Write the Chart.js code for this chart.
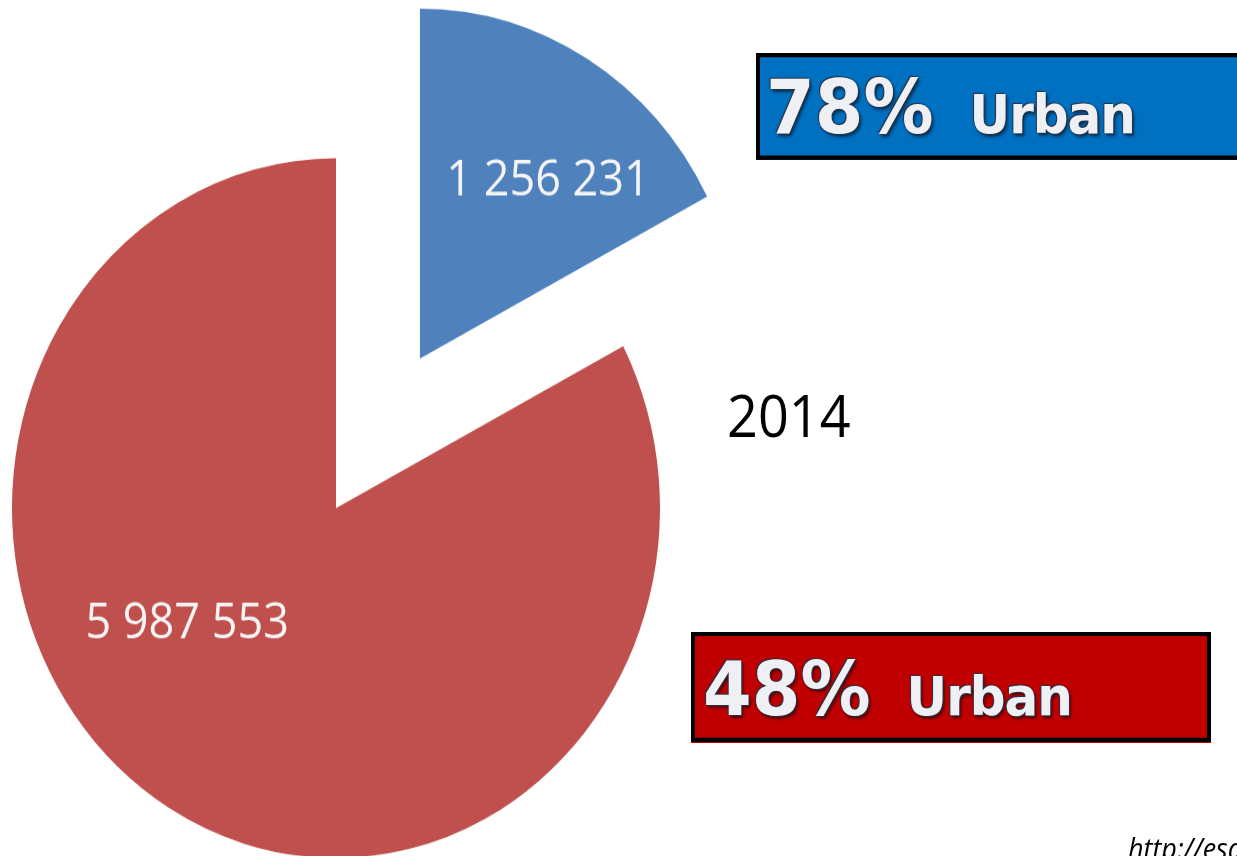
<!DOCTYPE html>
<html>
<head>
<meta charset="utf-8">
<title>World population 2014</title>
<script src="https://cdn.jsdelivr.net/npm/chart.js@4.4.1/dist/chart.umd.min.js"></script>
<style>
  html, body { margin: 0; padding: 0; background: #fff; width: 1237px; height: 856px; overflow: hidden; }
  /* the original picture is stretched a little in height, so the whole stage is too */
  #stage { position: absolute; left: 0; top: 0; width: 1237px; height: 793px; transform: scaleY(1.08); transform-origin: 0 0; }
  #pie { position: absolute; left: 0; top: 0; }
  .box {
    position: absolute; box-sizing: border-box; border: 4px solid #000;
    font-family: "DejaVu Sans", sans-serif; font-weight: bold; font-size: 70px; line-height: 1;
    color: #eef0f4; white-space: nowrap;
    text-shadow: 0 0 1px #28324a, 1px 1px 1px #28324a, -1px -1px 1px #28324a, 2px 3px 3px rgba(0,0,0,0.55);
  }
  .box .word { font-size: 50px; margin-left: 36px; letter-spacing: -1px; }
  #year { position: absolute; left: 727px; top: 347px; font-family: "Open Sans", sans-serif; font-size: 54px; color: #000; }
  #source { position: absolute; left: 1128px; top: 766px; font-family: "Open Sans", sans-serif; font-style: italic; font-size: 27px; color: #000; white-space: nowrap; }
</style>
</head>
<body>
<div id="stage">
  <canvas id="pie" width="1237" height="793"></canvas>
  <div class="box" id="boxDeveloped" style="left:756px; top:49px; width:520px; height:99px; background:#0070c0; padding:11px 0 0 6px;"></div>
  <div class="box" id="boxDeveloping" style="left:691px; top:585px; width:520px; height:102px; background:#c00000; padding:14px 0 0 8px;"></div>
  <div id="year"></div>
  <div id="source">http://esa.un.org/unpd/wup/</div>
</div>
<script>
// 2014 population (thousands) and urban share
const regions = ['More developed regions', 'Less developed regions'];
const population = [1256231, 5987553];
const urbanShare = [78, 48];
const year = '2014';
const sliceColors = ['#4f81bd', '#c0504d'];

const fmt = n => String(n).replace(/\B(?=(\d{3})+(?!\d))/g, ' ');

document.getElementById('year').textContent = year;
document.getElementById('boxDeveloped').innerHTML = urbanShare[0] + '%<span class="word">Urban</span>';
document.getElementById('boxDeveloping').innerHTML = urbanShare[1] + '%<span class="word">Urban</span>';

// chart.js grows (and slightly narrows) an offset arc when it draws it;
// undo that so the exploded slice keeps the same radius and straight edges
const keepRadius = {
  id: 'keepRadius',
  afterDatasetUpdate(chart, args) {
    chart.getDatasetMeta(args.index).data.forEach(arc => {
      const shift = (arc.options.offset || 0) / 4;
      const grow = shift * (1 - Math.sin(Math.min(Math.PI, arc.circumference || 0)));
      if (!grow) return;
      const r = arc.outerRadius;
      arc.outerRadius = r - grow;
      const trim = (grow / Math.PI) / r / 2;
      arc.startAngle -= trim;
      arc.endAngle += trim;
    });
  }
};

// value labels inside the slices, placed from the slice's apex
const valueLabels = {
  id: 'valueLabels',
  afterDatasetsDraw(chart, args, opts) {
    const ctx = chart.ctx;
    const meta = chart.getDatasetMeta(0);
    ctx.save();
    ctx.font = opts.font;
    ctx.fillStyle = opts.color;
    ctx.textAlign = 'center';
    ctx.textBaseline = 'middle';
    meta.data.forEach((arc, i) => {
      const p = arc.getProps(['x', 'y', 'startAngle', 'endAngle']);
      const half = (p.startAngle + p.endAngle) / 2;
      const shift = (arc.options.offset || 0) / 4;
      const ax = p.x + Math.cos(half) * shift;
      const ay = p.y + Math.sin(half) * shift;
      const a = opts.angle[i] * Math.PI / 180;
      const d = opts.dist[i];
      ctx.fillText(fmt(chart.data.datasets[0].data[i]), ax + Math.sin(a) * d, ay - Math.cos(a) * d);
    });
    ctx.restore();
  }
};

new Chart(document.getElementById('pie'), {
  type: 'pie',
  data: {
    labels: regions,
    datasets: [{
      data: population,
      backgroundColor: sliceColors,
      borderWidth: 0,
      offset: [648, 0],
      clip: false
    }]
  },
  options: {
    responsive: false,
    animation: false,
    radius: 324,
    cutout: '0%',
    layout: { padding: { left: 0, right: 565, top: 148, bottom: 0 } },
    plugins: {
      legend: { display: false },
      tooltip: { enabled: false },
      valueLabels: { font: '45px "Open Sans"', color: '#f4f4f4', angle: [38, 234], dist: [208, 184] }
    }
  },
  plugins: [keepRadius, valueLabels]
});
</script>
</body>
</html>
